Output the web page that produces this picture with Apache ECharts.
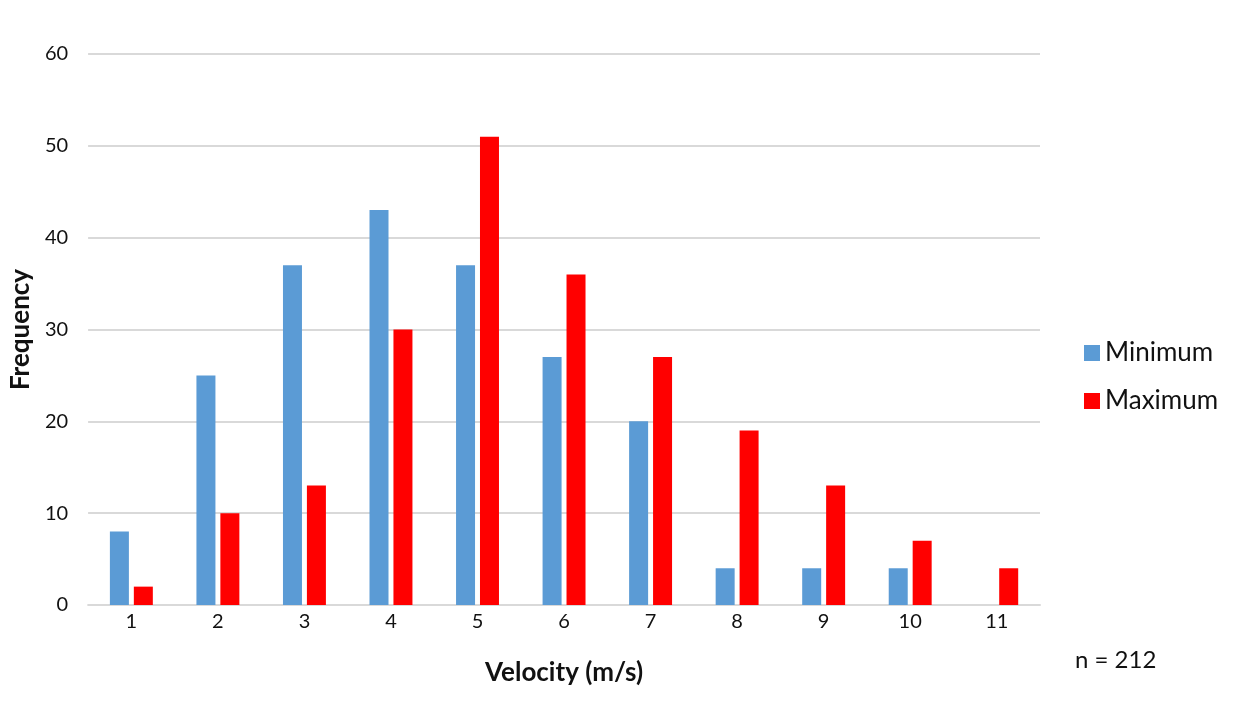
<!DOCTYPE html>
<html>
<head>
<meta charset="utf-8">
<script src="https://cdn.jsdelivr.net/npm/echarts@6/dist/echarts.min.js"></script>
<style>
html,body{margin:0;padding:0;background:#fff;}
#chart{width:1238px;height:709px;}
</style>
</head>
<body>
<div id="chart"></div>
<script>
const categories = ['1','2','3','4','5','6','7','8','9','10','11'];
const minimumValues = [8, 25, 37, 43, 37, 27, 20, 4, 4, 4, null];
const maximumValues = [2, 10, 13, 30, 51, 36, 27, 19, 13, 7, 4];
const yTicks = { min: 0, max: 60, interval: 10 };
const noteText = 'n = 212';

const FONT = 'Lato';
const chart = echarts.init(document.getElementById('chart'), null, {renderer: 'canvas'});
chart.setOption({
  backgroundColor: '#ffffff',
  animation: false,
  textStyle: { fontFamily: FONT },
  grid: { left: 87, right: 198, top: 54, bottom: 104, containLabel: false },
  legend: {
    orient: 'vertical',
    left: 1079,
    top: 335,
    itemWidth: 16,
    itemHeight: 16,
    itemGap: 22,
    icon: 'rect',
    textStyle: { fontFamily: FONT, fontSize: 26, color: '#111' },
    data: ['Minimum', 'Maximum']
  },
  xAxis: {
    type: 'category',
    data: categories,
    name: 'Velocity (m/s)',
    nameLocation: 'middle',
    nameGap: 55,
    nameTextStyle: { fontFamily: FONT, fontSize: 26, fontWeight: 'bold', color: '#111' },
    axisLine: { show: true, lineStyle: { color: '#d9d9d9', width: 2 } },
    axisTick: { show: false },
    axisLabel: { fontFamily: FONT, fontSize: 20, color: '#111', margin: 7 }
  },
  yAxis: {
    type: 'value',
    min: yTicks.min,
    max: yTicks.max,
    interval: yTicks.interval,
    name: 'Frequency',
    nameLocation: 'middle',
    nameGap: 54,
    nameRotate: 90,
    nameTextStyle: { fontFamily: FONT, fontSize: 26, fontWeight: 'bold', color: '#111' },
    axisLine: { show: false },
    axisTick: { show: false },
    axisLabel: { fontFamily: FONT, fontSize: 20, color: '#111', margin: 20 },
    splitLine: { show: true, lineStyle: { color: '#d9d9d9', width: 2 } }
  },
  series: [
    {
      name: 'Minimum',
      type: 'bar',
      data: minimumValues,
      barWidth: 19,
      barGap: '26%',
      itemStyle: { color: '#5b9bd5' }
    },
    {
      name: 'Maximum',
      type: 'bar',
      data: maximumValues,
      barWidth: 19,
      barGap: '26%',
      itemStyle: { color: '#ff0000' }
    }
  ],
  graphic: [
    {
      type: 'text',
      left: 1075,
      top: 648,
      style: { text: noteText, fontFamily: FONT, fontSize: 24, fill: '#111' }
    }
  ]
});
</script>
</body>
</html>
